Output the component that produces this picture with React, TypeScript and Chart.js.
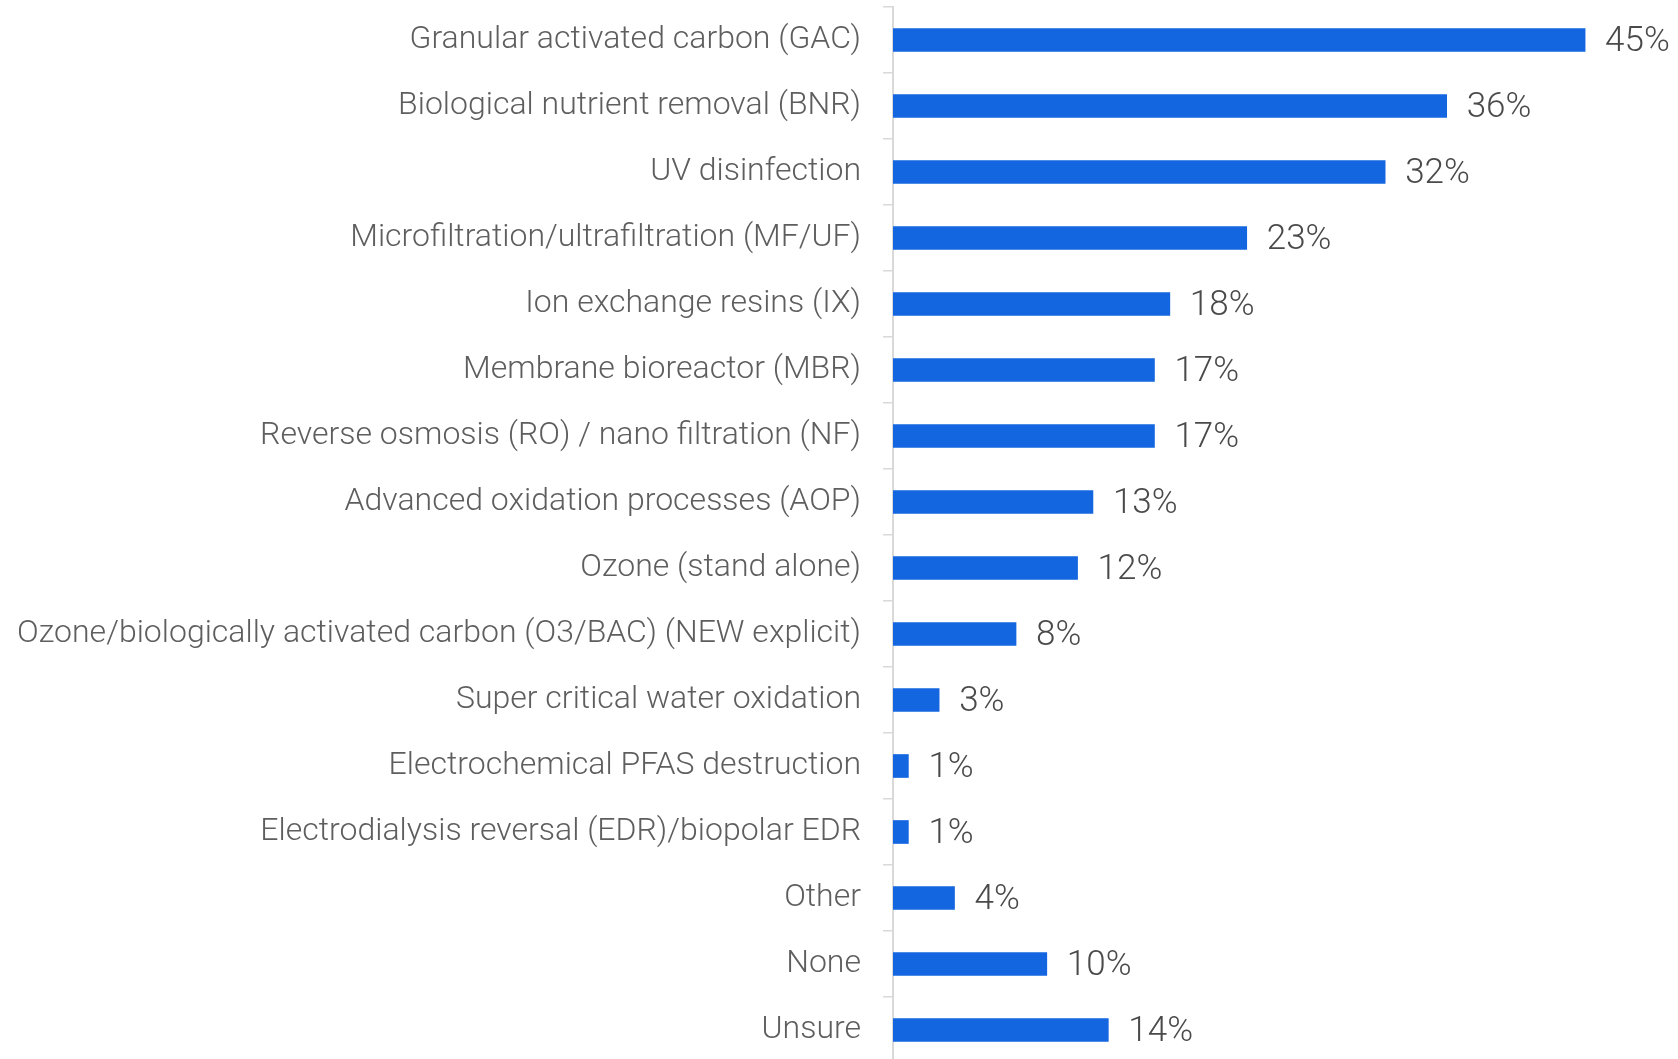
import React, { useEffect, useRef } from "react";
import { Chart, registerables } from "chart.js";

Chart.register(...registerables);

const categories: string[] = [
  "Granular activated carbon (GAC)",
  "Biological nutrient removal (BNR)",
  "UV disinfection",
  "Microfiltration/ultrafiltration (MF/UF)",
  "Ion exchange resins (IX)",
  "Membrane bioreactor (MBR)",
  "Reverse osmosis (RO) / nano filtration (NF)",
  "Advanced oxidation processes (AOP)",
  "Ozone (stand alone)",
  "Ozone/biologically activated carbon (O3/BAC) (NEW explicit)",
  "Super critical water oxidation",
  "Electrochemical PFAS destruction",
  "Electrodialysis reversal (EDR)/biopolar EDR",
  "Other",
  "None",
  "Unsure",
];

const values: number[] = [45, 36, 32, 23, 18, 17, 17, 13, 12, 8, 3, 1, 1, 4, 10, 14];

const BAR_COLOR = "#1366e0";
const TEXT_COLOR = "#5e5e5e";
const FONT_FAMILY = "Roboto, 'Open Sans', sans-serif";

const valueLabelPlugin = {
  id: "valueLabels",
  afterDatasetsDraw(chart: any) {
    const ctx = chart.ctx;
    const meta = chart.getDatasetMeta(0);
    ctx.save();
    ctx.font = `300 35px ${FONT_FAMILY}`;
    ctx.fillStyle = "#4a4a4a";
    ctx.textAlign = "left";
    ctx.textBaseline = "middle";
    meta.data.forEach((bar: any, i: number) => {
      ctx.fillText(`${values[i]}%`, bar.x + 20, bar.y + 2);
    });
    ctx.restore();
  },
};

export default function App() {
  const canvasRef = useRef<HTMLCanvasElement | null>(null);

  useEffect(() => {
    if (!canvasRef.current) return;
    const chart = new Chart(canvasRef.current, {
      type: "bar",
      data: {
        labels: categories,
        datasets: [
          {
            data: values,
            backgroundColor: BAR_COLOR,
            borderWidth: 0,
            barThickness: 23,
          },
        ],
      },
      options: {
        indexAxis: "y",
        animation: false,
        responsive: false,
        maintainAspectRatio: false,
        layout: { padding: { top: 7, right: 16, bottom: 0, left: 0 } },
        plugins: {
          legend: { display: false },
          tooltip: { enabled: false },
        },
        scales: {
          x: {
            display: false,
            min: 0,
            max: 50,
          },
          y: {
            afterFit: (scale: any) => {
              scale.width = 893;
              scale.paddingTop = 0;
              scale.paddingBottom = 0;
            },
            grid: {
              display: true,
              drawOnChartArea: false,
              drawTicks: true,
              tickLength: 10,
              color: "#d9d9d9",
              lineWidth: 1.5,
              offset: true,
            },
            border: { display: true, color: "#d9d9d9", width: 2 },
            ticks: {
              color: TEXT_COLOR,
              padding: 22,
              autoSkip: false,
              font: { family: FONT_FAMILY, size: 32, weight: "300" as any },
            },
          },
        },
      },
      plugins: [valueLabelPlugin],
    });
    return () => chart.destroy();
  }, []);

  return (
    <div
      style={{
        position: "fixed",
        left: 0,
        top: 0,
        width: 1678,
        height: 1059,
        overflow: "hidden",
        background: "#fff",
      }}
    >
      <canvas ref={canvasRef} width={1678} height={1063} style={{ display: "block" }} />
    </div>
  );
}
